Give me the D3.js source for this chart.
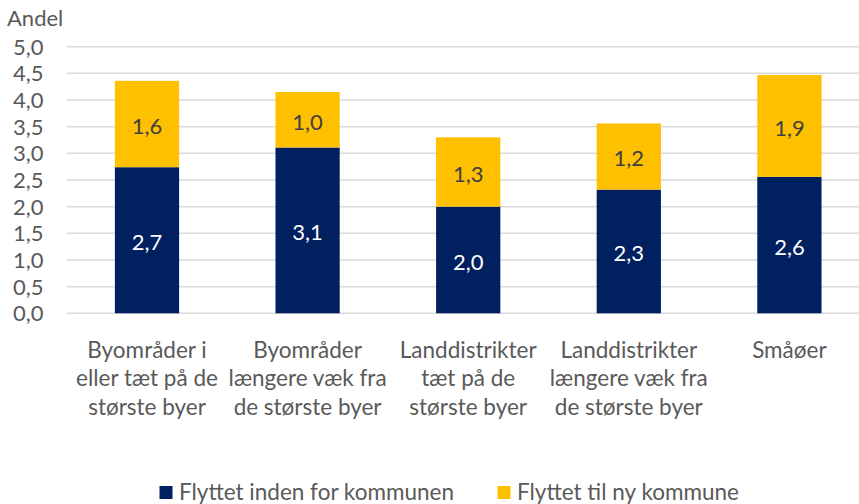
<!DOCTYPE html>
<html><head><meta charset="utf-8">
<script src="https://cdn.jsdelivr.net/npm/d3@7"></script>
<style>
html,body{margin:0;padding:0;background:#fff;}
svg text{font-family:Lato,"Open Sans",sans-serif;}
</style></head>
<body>
<svg id="chart" width="859" height="504"></svg>
<script>
const categories = [
  ["Byområder i","eller tæt på de","største byer"],
  ["Byområder","længere væk fra","de største byer"],
  ["Landdistrikter","tæt på de","største byer"],
  ["Landdistrikter","længere væk fra","de største byer"],
  ["Småøer"]
];
const seriesNames = ["Flyttet inden for kommunen","Flyttet til ny kommune"];
const withinMunicipality = [2.74, 3.11, 2.00, 2.32, 2.56];
const newMunicipality = [1.62, 1.04, 1.30, 1.24, 1.91];
const yTicks = [0,0.5,1,1.5,2,2.5,3,3.5,4,4.5,5];
const yTitle = "Andel";

const colors = ["#002060","#FFC000"];
const labelColors = ["#ffffff","#404040"];

const svg = d3.select("#chart");
const fmt = v => v.toFixed(1).replace(".", ",");

const y = d3.scaleLinear().domain([0,5]).range([313.3,46.7]);
const x = d3.scaleBand().domain(d3.range(categories.length)).range([66.7,869.7]).paddingInner(0.6).paddingOuter(0.3);

// gridlines
svg.append("g").selectAll("line").data(yTicks).join("line")
  .attr("x1",66.7).attr("x2",870)
  .attr("y1",d=>y(d)).attr("y2",d=>y(d))
  .attr("stroke","#d9d9d9").attr("stroke-width",1.5);

// y tick labels
svg.append("g").selectAll("text").data(yTicks).join("text")
  .attr("x",43.5).attr("y",d=>y(d)).attr("dy","0.36em")
  .attr("text-anchor","end").attr("fill","#595959").attr("font-size",22)
  .text(d=>fmt(d));

svg.append("text").attr("x",7).attr("y",26).attr("fill","#595959").attr("font-size",22).text(yTitle);

// stacked data
const rows = categories.map((c,i)=>({i, a:withinMunicipality[i], b:newMunicipality[i]}));
const stack = d3.stack().keys(["a","b"])(rows);

const layers = svg.append("g").selectAll("g").data(stack).join("g")
  .attr("fill",(d,i)=>colors[i]);
layers.selectAll("rect").data(d=>d).join("rect")
  .attr("x",d=>x(d.data.i)).attr("width",x.bandwidth())
  .attr("y",d=>y(d[1])).attr("height",d=>y(d[0])-y(d[1]));

stack.forEach((layer,k)=>{
  svg.append("g").selectAll("text").data(layer).join("text")
    .attr("x",d=>x(d.data.i)+x.bandwidth()/2)
    .attr("y",d=>(y(d[0])+y(d[1]))/2+2)
    .attr("dy","0.36em").attr("text-anchor","middle")
    .attr("fill",labelColors[k]).attr("font-size",22)
    .text(d=>fmt(d[1]-d[0]));
});

// category labels
const cg = svg.append("g").selectAll("text").data(categories).join("text")
  .attr("text-anchor","middle").attr("fill","#595959").attr("font-size",22.5);
cg.each(function(lines,i){
  const t = d3.select(this);
  lines.forEach((ln,j)=>{
    t.append("tspan").attr("x",x(i)+x.bandwidth()/2).attr("y",357.5+j*28.5).text(ln);
  });
});

// legend
const legendX = [159.5, 497.5];
const lg = svg.append("g").selectAll("g").data(seriesNames).join("g")
  .attr("transform",(d,i)=>`translate(${legendX[i]},0)`);
lg.append("rect").attr("x",0).attr("y",486).attr("width",13).attr("height",13).attr("fill",(d,i)=>colors[i]);
lg.append("text").attr("x",19.5).attr("y",499.5).attr("fill","#595959").attr("font-size",22.5).text(d=>d);
</script>
</body></html>
